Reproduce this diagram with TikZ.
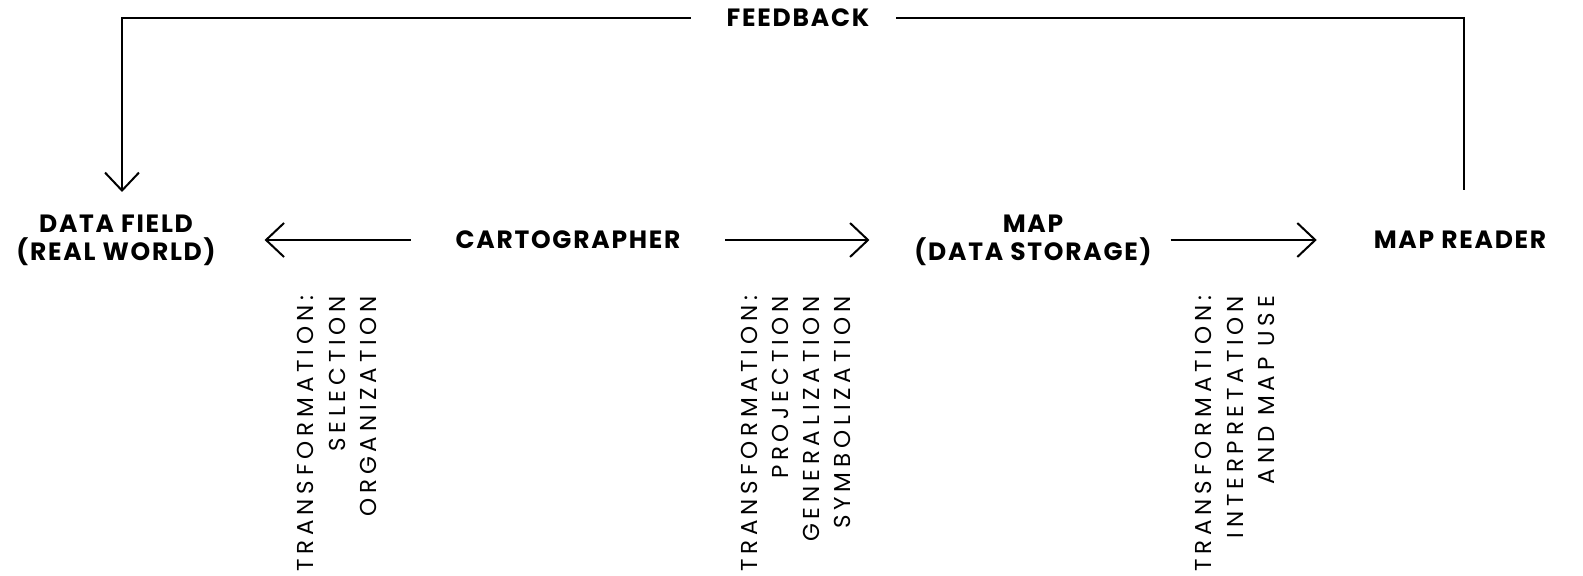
\documentclass[tikz,border=0pt]{standalone}
\usepackage{fontspec}
\setmainfont{Poppins}
\newfontfamily\labelfont{Poppins}[LetterSpace=7]
\newfontfamily\spacedfont{Poppins}[LetterSpace=21]
\usetikzlibrary{positioning, arrows.meta}

\begin{document}
\begin{tikzpicture}[
    x=0.5pt, y=-0.5pt,
    >={Straight Barb[length=9pt, width=17pt]},
    line width=1pt,
    lbl/.style={font=\labelfont\bfseries\fontsize{12.5}{14}\selectfont, align=center, inner sep=0pt},
    trans/.style={font=\spacedfont\fontsize{11.5}{15.6}\selectfont, rotate=90, anchor=east, align=right, inner sep=0pt}
]
    \useasboundingbox (0,0) rectangle (1583,576);

    % --- Etapas do processo ---
    \node[lbl] (field) at (116,240) {DATA FIELD\\(REAL WORLD)};
    \node[lbl] (carto) at (568,240) {CARTOGRAPHER};
    \node[lbl] (map) at (1033,240) {MAP\\(DATA STORAGE)};
    \node[lbl] (reader) at (1460,240) {MAP READER};

    % --- Conexoes ---
    \draw[->, shorten <=22pt, shorten >=24pt] (carto) -- (field);
    \draw[->, shorten <=22pt, shorten >=22pt] (carto) -- (map);
    \draw[->, shorten <=9pt, shorten >=28pt] (map) -- (reader);

    % --- Retorno (feedback) ---
    \node[lbl] (feedback) at (798,18) {FEEDBACK};
    \coordinate (fbleft) at (122,18);
    \coordinate (fbright) at (1464,18);
    \coordinate (fbin) at (122,192);
    \coordinate (fbout) at (1464,190);
    \draw[->, shorten <=17.5pt] (feedback) -- (fbleft) -- (fbin);
    \draw[shorten <=13pt] (feedback) -- (fbright) -- (fbout);

    % --- Transformacoes ---
    \node[trans] (t1) at (337,295) {TRANSFORMATION:\\SELECTION\\ORGANIZATION};
    \node[trans] (t2) at (796,295) {TRANSFORMATION:\\PROJECTION\\GENERALIZATION\\SYMBOLIZATION};
    \node[trans] (t3) at (1235,295) {TRANSFORMATION:\\INTERPRETATION\\AND MAP USE};

\end{tikzpicture}
\end{document}
